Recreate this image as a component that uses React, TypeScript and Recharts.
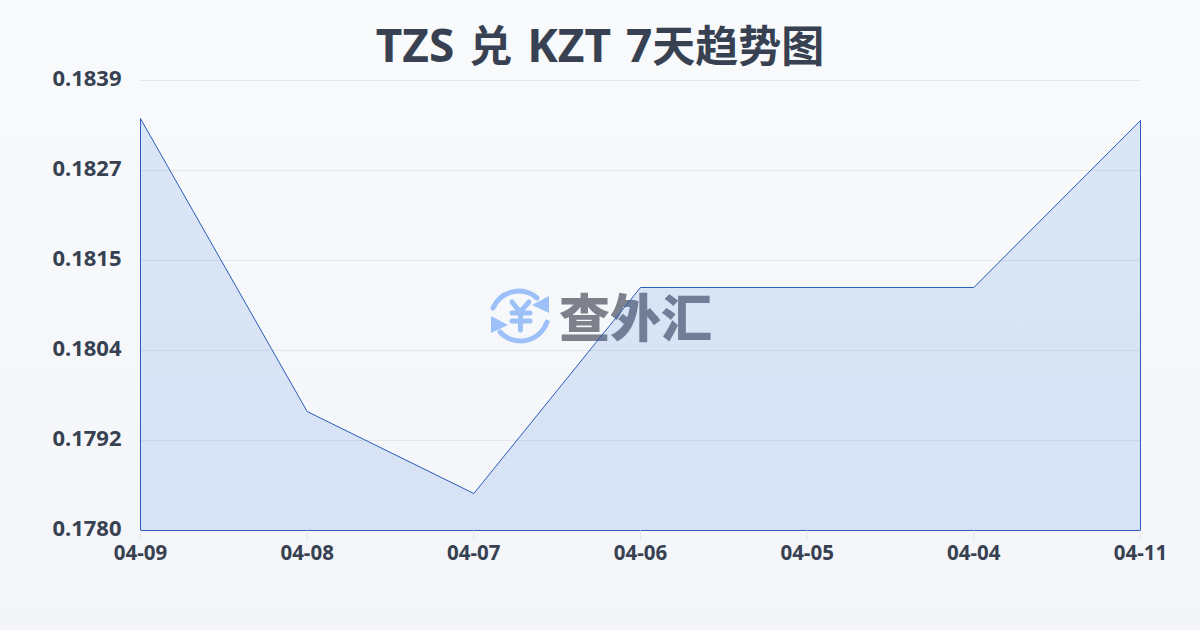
import React from 'react';
import { AreaChart, Area, XAxis, YAxis, CartesianGrid, ReferenceLine } from 'recharts';

const dates = ['04-09', '04-08', '04-07', '04-06', '04-05', '04-04', '04-11'];
const rates = [0.1834, 0.17956, 0.178485, 0.181186, 0.181186, 0.181186, 0.183376];
const yTicks = [0.178, 0.17918, 0.18036, 0.18154, 0.18272, 0.1839];
const brand = '查外汇';

const rows = dates.map((d, i) => ({ d, v: rates[i] }));
const BLUE = '#2a5cba';
const FONT = '"Noto Sans", "Noto Sans CJK SC", sans-serif';
const CJK = '"Noto Sans CJK SC", sans-serif';
const first = dates[0];
const last = dates[dates.length - 1];
const floor = yTicks[0];

function Logo() {
  return (
    <svg width={70} height={70} viewBox="0 0 70 70" style={{ position: 'absolute', left: 485, top: 280 }}>
      <g fill="none" stroke="#9dc0f8" strokeWidth={5} strokeLinecap="round" strokeLinejoin="round">
        <path d="M8 28 A28 28 0 0 1 52 18" />
        <path d="M62 42 A28 28 0 0 1 15 52" />
        <path d="M27 22 L35 32 L44 22 M27 33 H45 M27 41 H45 M35.5 32 V50" />
      </g>
      <path d="M64 16 L64 33 L47 25 Z" fill="#9dc0f8" />
      <path d="M6 36 L6 53 L23 45 Z" fill="#9dc0f8" />
    </svg>
  );
}

export default function App() {
  const han = { fontFamily: CJK, fontSize: 43 };
  return (
    <div
      style={{
        position: 'absolute',
        left: 0,
        top: 0,
        width: 1200,
        height: 630,
        overflow: 'hidden',
        background: 'linear-gradient(180deg, #f8fafc 0%, #f3f5f8 100%)',
        fontFamily: FONT,
      }}
    >
      <div
        style={{
          position: 'absolute',
          left: 0,
          top: 13,
          width: 1200,
          textAlign: 'center',
          fontSize: 46,
          lineHeight: '60px',
          fontWeight: 700,
          wordSpacing: 3,
          color: '#374151',
        }}
      >
        TZS <span style={han}>兑</span> KZT 7<span style={han}>天趋势图</span>
      </div>
      <Logo />
      <div
        style={{
          position: 'absolute',
          left: 559,
          top: 279,
          fontFamily: CJK,
          fontSize: 51,
          lineHeight: '72px',
          fontWeight: 900,
          color: '#7c818b',
          whiteSpace: 'nowrap',
        }}
      >
        {brand}
      </div>
      <div style={{ position: 'absolute', left: 0, top: 0 }}>
        <AreaChart width={1200} height={630} data={rows} margin={{ top: 80.5, right: 59.5, bottom: 0, left: 0 }}>
          <CartesianGrid vertical={false} stroke="#e5e7eb" strokeWidth={1} />
          <XAxis
            dataKey="d"
            height={99.5}
            interval={0}
            padding={{ left: 0, right: 0 }}
            axisLine={false}
            tickLine={{ stroke: '#e5e7eb' }}
            tickSize={10}
            tickMargin={5}
            tick={{ fill: '#374151', fontSize: 20.5, fontWeight: 700, fontFamily: FONT }}
          />
          <YAxis
            width={140.5}
            domain={[yTicks[0], yTicks[yTicks.length - 1]]}
            ticks={yTicks}
            interval={0}
            axisLine={false}
            tickLine={false}
            tickMargin={19}
            tickSize={0}
            tickFormatter={(v: number) => v.toFixed(4)}
            tick={{ fill: '#374151', fontSize: 22, fontWeight: 700, fontFamily: FONT, dy: -2 }}
          />
          <Area
            type="linear"
            dataKey="v"
            stroke={BLUE}
            strokeWidth={1}
            fill="#3574dc"
            fillOpacity={0.15}
            dot={false}
            activeDot={false}
            isAnimationActive={false}
          />
          <ReferenceLine segment={[{ x: first, y: floor }, { x: first, y: rates[0] }]} stroke={BLUE} strokeWidth={1} />
          <ReferenceLine segment={[{ x: last, y: floor }, { x: last, y: rates[rates.length - 1] }]} stroke={BLUE} strokeWidth={1} />
          <ReferenceLine segment={[{ x: first, y: floor }, { x: last, y: floor }]} stroke={BLUE} strokeWidth={1} />
        </AreaChart>
      </div>
    </div>
  );
}
